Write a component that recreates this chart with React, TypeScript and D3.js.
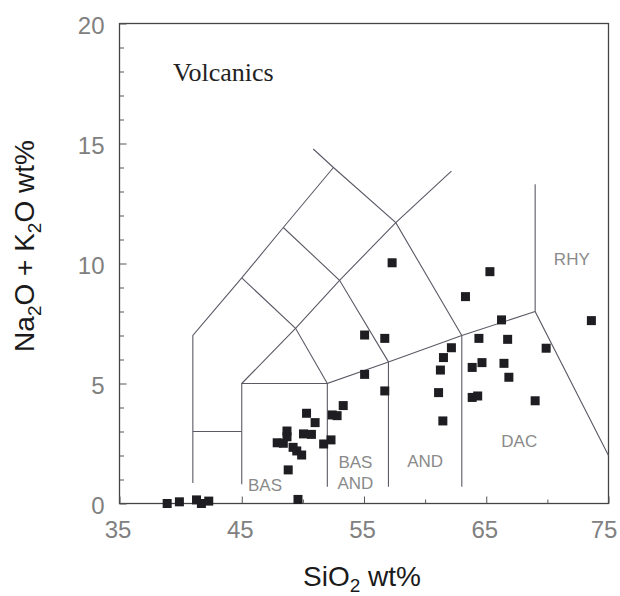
import React, { useRef, useEffect } from 'react';
import * as d3 from 'd3';

// axis ranges and tick values
const xDomain: [number, number] = [35, 75];
const yDomain: [number, number] = [0, 20];
const xMajorTicks = [35, 45, 55, 65, 75];
const xMinorTicks = [50, 60, 70];
const yMajorTicks = [0, 5, 10, 15, 20];
const yMinorTicks = [1, 2, 3, 4, 6, 7, 8, 9, 11, 12, 13, 14, 16, 17, 18, 19];

// samples: SiO2 wt% and Na2O + K2O wt%
const silica = [
  38.9, 39.9, 41.3, 41.7, 42.3, 49.6,
  47.9, 48.4, 48.7, 48.7, 48.8, 49.2, 49.5, 49.9, 50.05, 50.7, 50.3, 51.0, 51.7, 52.3, 52.4, 52.8, 53.3,
  55.05, 56.7, 55.05, 56.7, 57.3, 65.3, 63.3, 62.15, 61.5, 61.25, 61.1, 61.45,
  64.4, 63.85, 64.65, 63.85, 64.3, 66.25, 66.75, 66.45, 66.85, 69.9, 69.0, 73.6,
];
const alkalis = [
  0.0, 0.07, 0.15, 0.0, 0.1, 0.17,
  2.53, 2.51, 3.02, 2.78, 1.4, 2.34, 2.19, 2.02, 2.9, 2.88, 3.76, 3.37, 2.48, 2.65, 3.69, 3.66, 4.08,
  7.02, 6.88, 5.38, 4.69, 10.03, 9.66, 8.62, 6.49, 6.08, 5.56, 4.62, 3.44,
  6.88, 5.67, 5.87, 4.42, 4.48, 7.65, 6.84, 5.84, 5.26, 6.47, 4.28, 7.62,
];

// TAS field boundaries as drawn in the figure
const boundaries: [number, number][][] = [
  [[41, 0.85], [41, 7], [45, 9.4], [48.4, 11.5], [52.5, 14]],
  [[41, 3], [45, 3]],
  [[45, 0.8], [45, 5], [52, 5]],
  [[45, 5], [49.4, 7.3], [53, 9.3], [57.6, 11.7], [62.15, 13.85]],
  [[45, 9.4], [49.4, 7.3], [52, 5]],
  [[48.4, 11.5], [53, 9.3], [57, 5.9]],
  [[50.85, 14.77], [52.5, 14], [57.6, 11.7], [63, 7]],
  [[52, 0.7], [52, 5], [57, 5.9], [63, 7], [69, 8]],
  [[57, 0.7], [57, 5.9]],
  [[63, 0.7], [63, 7]],
  [[69, 13.3], [69, 8], [75, 2]],
];

const fieldLabels: { lines: string[]; x: number; y: number }[] = [
  { lines: ['BAS'], x: 46.9, y: 0.52 },
  { lines: ['BAS', 'AND'], x: 54.3, y: 1.48 },
  { lines: ['AND'], x: 60.0, y: 1.52 },
  { lines: ['DAC'], x: 67.7, y: 2.35 },
  { lines: ['RHY'], x: 72.0, y: 9.94 },
];

const sans = '"Liberation Sans", Arial, Helvetica, sans-serif';

function TasChart() {
  const svgRef = useRef<SVGSVGElement>(null);

  useEffect(() => {
    const svg = d3.select(svgRef.current);
    svg.selectAll('*').remove();

    const x = d3.scaleLinear().domain(xDomain).range([119.5, 608.5]);
    const y = d3.scaleLinear().domain(yDomain).range([503.5, 23.5]);

    // frame
    svg.append('rect')
      .attr('x', x(35)).attr('y', y(20))
      .attr('width', x(75) - x(35)).attr('height', y(0) - y(20))
      .attr('fill', 'none').attr('stroke', '#444').attr('stroke-width', 1.3);

    // y axis, ticks pointing inside
    const yMinor = svg.append('g').attr('transform', `translate(${x(35)},0)`)
      .call(d3.axisLeft(y).tickValues(yMinorTicks).tickSize(-4.5).tickFormat(() => ''));
    yMinor.select('.domain').remove();
    yMinor.selectAll('line').attr('stroke', '#555');

    const yMajor = svg.append('g').attr('transform', `translate(${x(35)},0)`)
      .call(d3.axisLeft(y).tickValues(yMajorTicks).tickSize(-7).tickPadding(15));
    yMajor.select('.domain').remove();
    yMajor.selectAll('line').attr('stroke', '#555');
    yMajor.selectAll('text')
      .attr('dy', '0.4em')
      .attr('fill', '#808080')
      .style('font-family', sans)
      .style('font-size', '24px');

    // x axis
    const xMinor = svg.append('g').attr('transform', `translate(0,${y(0)})`)
      .call(d3.axisBottom(x).tickValues(xMinorTicks).tickSize(-4).tickFormat(() => ''));
    xMinor.select('.domain').remove();
    xMinor.selectAll('line').attr('stroke', '#555');

    const xMajor = svg.append('g').attr('transform', `translate(0,${y(0)})`)
      .call(d3.axisBottom(x).tickValues(xMajorTicks).tickSize(-7).tickPadding(17));
    xMajor.select('.domain').remove();
    xMajor.selectAll('line').attr('stroke', '#555');
    xMajor.selectAll<SVGTextElement, number>('text')
      .attr('dx', d => (d === 75 ? -5 : -2))
      .attr('fill', '#808080')
      .style('font-family', sans)
      .style('font-size', '24px');

    // field boundaries
    const line = d3.line<[number, number]>()
      .x(d => x(d[0]))
      .y(d => y(d[1]));

    svg.append('g')
      .selectAll('path')
      .data(boundaries)
      .enter().append('path')
      .attr('d', d => line(d))
      .attr('fill', 'none')
      .attr('stroke', '#5a5a66')
      .attr('stroke-width', 1.1);

    // field names
    const labels = svg.append('g')
      .style('font-family', sans)
      .style('font-size', '17px')
      .attr('fill', '#8a8a8a')
      .attr('text-anchor', 'middle');
    fieldLabels.forEach(l => {
      const t = labels.append('text').attr('x', x(l.x)).attr('y', y(l.y));
      l.lines.forEach((s, i) => {
        t.append('tspan').attr('x', x(l.x)).attr('dy', i === 0 ? 0 : 21).text(s);
      });
    });

    // samples
    const pts = silica.map((s, i) => ({ s, a: alkalis[i] }));
    const size = 9;
    svg.append('g')
      .selectAll('rect')
      .data(pts)
      .enter().append('rect')
      .attr('x', d => x(d.s) - size / 2)
      .attr('y', d => y(d.a) - size / 2)
      .attr('width', size)
      .attr('height', size)
      .attr('fill', '#1e1e22');

    // panel title
    svg.append('text')
      .attr('x', 173)
      .attr('y', 81)
      .style('font-family', '"Liberation Serif", "Times New Roman", serif')
      .style('font-size', '26px')
      .attr('fill', '#222')
      .text('Volcanics');

    // x title
    const xt = svg.append('text')
      .attr('x', 362)
      .attr('y', 586)
      .attr('text-anchor', 'middle')
      .style('font-family', sans)
      .style('font-size', '28px')
      .attr('fill', '#1a1a1a');
    xt.append('tspan').text('SiO');
    xt.append('tspan').attr('dy', 6).style('font-size', '19px').text('2');
    xt.append('tspan').attr('dy', -6).text(' wt%');

    // y title
    const yt = svg.append('text')
      .attr('transform', 'translate(34,246) rotate(-90)')
      .attr('text-anchor', 'middle')
      .style('font-family', sans)
      .style('font-size', '28px')
      .attr('fill', '#1a1a1a');
    yt.append('tspan').text('Na');
    yt.append('tspan').attr('dy', 7).style('font-size', '19px').text('2');
    yt.append('tspan').attr('dy', -7).text('O + K');
    yt.append('tspan').attr('dy', 7).style('font-size', '19px').text('2');
    yt.append('tspan').attr('dy', -7).text('O wt%');
  }, []);

  return (
    <svg ref={svgRef} width={620} height={596}
      style={{ position: 'absolute', left: 0, top: 0, background: '#fff' }} />
  );
}

export default function App() {
  return <TasChart />;
}
